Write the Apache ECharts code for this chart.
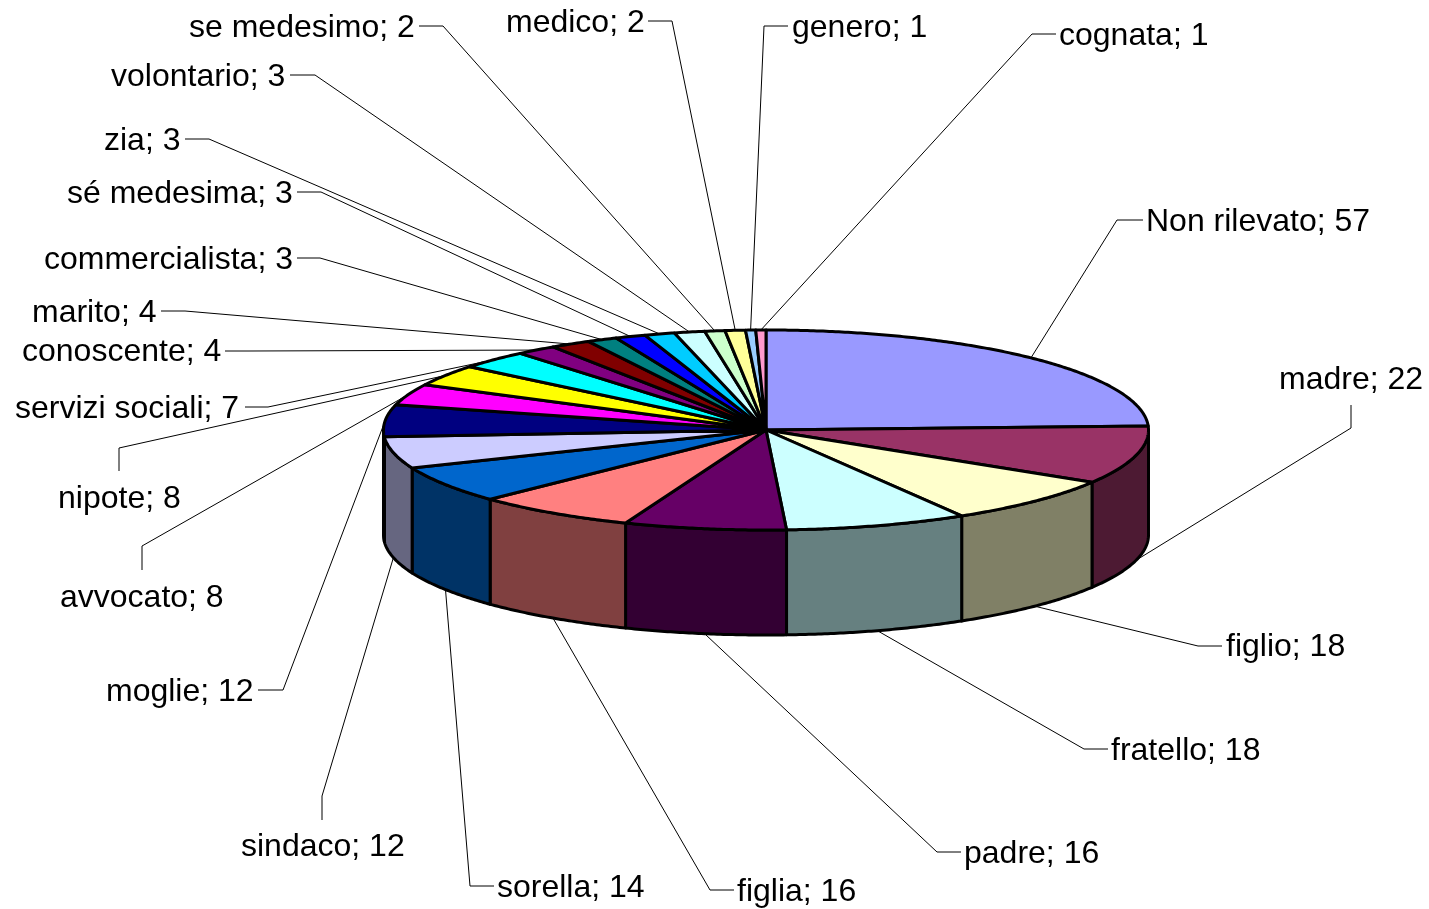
<!DOCTYPE html>
<html>
<head>
<meta charset="utf-8">
<style>html,body{margin:0;padding:0;background:#fff}#c{width:1429px;height:909px}</style>
<script src="https://cdn.jsdelivr.net/npm/echarts@6/dist/echarts.min.js"></script>
</head>
<body>
<div id="c"></div>
<script>
const categories = ['Non rilevato','madre','figlio','fratello','padre','figlia','sorella','sindaco','moglie','avvocato','nipote','servizi sociali','conoscente','marito','commercialista','sé medesima','zia','volontario','se medesimo','medico','genero','cognata'];
const values = [57,22,18,18,16,16,14,12,12,8,8,7,4,4,3,3,3,3,2,2,1,1];
const topColors = ['#9999FF','#993366','#FFFFCC','#CCFFFF','#660066','#FF8080','#0066CC','#CCCCFF','#000080','#FF00FF','#FFFF00','#00FFFF','#800080','#800000','#008080','#0000FF','#00CCFF','#CCFFFF','#CCFFCC','#FFFF99','#99CCFF','#FF99CC'];
const sideColors = ['#4D4D80','#4D1A33','#808066','#668080','#330033','#804040','#003366','#666680','#000040','#800080','#808000','#008080','#400040','#400000','#004040','#000080','#006680','#668080','#668066','#80804D','#4D6680','#804D66'];
// label layout: text left edge, text middle, leader start and knee
const labelX = [1146,1279,1226,1111,964,737,497,241,106,60,58,15,22,32,44,67,104,111,189,506,792,1059];
const labelY = [222,380,647,751,854,892,888,847,692,598,499,409,352,313,260,194,141,77,28,23,28,36];
const leadStart = [[1143,220],[1351,405],[1222,646],[1108,749],[961,852],[734,890],[494,886],[322,820],[258,690],[142,570],[119,471],[245,407],[225,351],[161,311],[297,258],[297,192],[185,139],[290,75],[419,26],[648,21],[788,26],[1056,34]];
const leadKnee = [[1117,220],[1351,428],[1198,646],[1084,749],[937,852],[710,890],[470,886],[322,796],[283,690],[142,546],[119,448],[268,407],[249,351],[185,311],[320,258],[321,192],[209,139],[315,75],[443,26],[672,21],[764,26],[1032,34]];

const CX = 766, CY = 430, RX = 382.5, RY = 100, DEPTH = 105;
const total = values.reduce((a, b) => a + b, 0);
const starts = [];
values.reduce((acc, v, i) => { starts[i] = acc; return acc + v; }, 0);
const toAngle = v => v / total * Math.PI * 2;
const pt = (a, dy) => [CX + RX * Math.sin(a), CY - RY * Math.cos(a) + (dy || 0)];
const arc = (a0, a1, dy) => {
  const n = Math.max(2, Math.ceil((a1 - a0) * 120));
  const out = [];
  for (let i = 0; i <= n; i++) out.push(pt(a0 + (a1 - a0) * i / n, dy));
  return out;
};
const sliceData = categories.map((n, i) => ({ name: n, value: [i, values[i]] }));

function renderLeader(params, api) {
  const i = api.value(0);
  const mid = toAngle(starts[i] + values[i] / 2);
  const front = Math.cos(mid) < 0;
  const end = pt(mid, front ? DEPTH : 0);
  return {
    type: 'group', children: [
      { type: 'polyline', silent: true, shape: { points: [leadStart[i], leadKnee[i], end] }, style: { stroke: '#000', lineWidth: 1, fill: null } },
      { type: 'text', silent: true, x: labelX[i], y: labelY[i], style: { text: categories[i] + '; ' + values[i], fill: '#000', font: '32px "Liberation Sans", Arial, sans-serif', textAlign: 'left', textVerticalAlign: 'middle' } }
    ]
  };
}
function renderWall(params, api) {
  const i = api.value(0);
  const a0 = Math.max(toAngle(starts[i]), Math.PI / 2);
  const a1 = Math.min(toAngle(starts[i] + values[i]), Math.PI * 1.5);
  if (a1 <= a0) return { type: 'group', children: [] };
  const points = arc(a0, a1, 0).concat(arc(a0, a1, DEPTH).reverse());
  return { type: 'polygon', silent: true, shape: { points }, style: { fill: sideColors[i], stroke: '#000', lineWidth: 3, lineJoin: 'round' } };
}
function renderTop(params, api) {
  const i = api.value(0);
  const a0 = toAngle(starts[i]), a1 = toAngle(starts[i] + values[i]);
  const points = [[CX, CY]].concat(arc(a0, a1, 0));
  return { type: 'polygon', silent: true, shape: { points }, style: { fill: topColors[i], stroke: '#000', lineWidth: 3, lineJoin: 'round' } };
}
const chart = echarts.init(document.getElementById('c'), null, { renderer: 'canvas' });
chart.setOption({
  animation: false,
  backgroundColor: '#fff',
  tooltip: { show: false },
  series: [
    { type: 'custom', coordinateSystem: 'none', renderItem: renderLeader, data: sliceData, z: 1 },
    { type: 'custom', coordinateSystem: 'none', renderItem: renderWall, data: sliceData, z: 2 },
    { type: 'custom', coordinateSystem: 'none', renderItem: renderTop, data: sliceData, z: 3 }
  ]
});
</script>
</body>
</html>
